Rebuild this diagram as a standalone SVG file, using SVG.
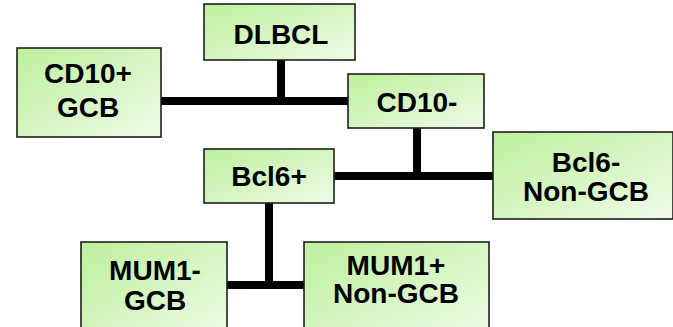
<svg xmlns="http://www.w3.org/2000/svg" width="673" height="327" viewBox="0 0 673 327">
  <defs>
    <linearGradient id="boxFill" x1="0" y1="0" x2="1" y2="1">
      <stop offset="0" stop-color="#bdf09c"/>
      <stop offset="1" stop-color="#effbe8"/>
    </linearGradient>
  </defs>
  <style>
    .box { fill: url(#boxFill); stroke: #1e1e1e; stroke-width: 1.6; }
    .lbl { font-family: "Liberation Sans", Arial, sans-serif; font-weight: bold; font-size: 28px; fill: #000; text-anchor: middle; }
    .conn { stroke: #000; stroke-width: 8; fill: none; stroke-linecap: butt; }
  </style>
  <rect width="673" height="327" fill="#ffffff"/>

  <g id="connectors">
    <line class="conn" x1="281" y1="60" x2="281" y2="101"/>
    <line class="conn" x1="161" y1="101" x2="348" y2="101"/>
    <line class="conn" x1="417" y1="128" x2="417" y2="176"/>
    <line class="conn" x1="334" y1="176" x2="493" y2="176"/>
    <line class="conn" x1="269" y1="203" x2="269" y2="285"/>
    <line class="conn" x1="227" y1="285" x2="304" y2="285"/>
  </g>

  <g id="dlbcl">
    <rect class="box" x="204" y="4" width="151" height="56"/>
    <text class="lbl" x="281" y="44">DLBCL</text>
  </g>

  <g id="cd10pos">
    <rect class="box" x="17" y="48" width="144" height="89"/>
    <text class="lbl" x="88" y="83">CD10+</text>
    <text class="lbl" x="88" y="117">GCB</text>
  </g>

  <g id="cd10neg">
    <rect class="box" x="348" y="74" width="136" height="54"/>
    <text class="lbl" x="417" y="112">CD10-</text>
  </g>

  <g id="bcl6pos">
    <rect class="box" x="204" y="149" width="130" height="54"/>
    <text class="lbl" x="269" y="186">Bcl6+</text>
  </g>

  <g id="bcl6neg">
    <rect class="box" x="493" y="132" width="180" height="87"/>
    <text class="lbl" x="586" y="172">Bcl6-</text>
    <text class="lbl" x="586" y="201">Non-GCB</text>
  </g>

  <g id="mum1neg">
    <rect class="box" x="81" y="242" width="146" height="100"/>
    <text class="lbl" x="155" y="280">MUM1-</text>
    <text class="lbl" x="155" y="310">GCB</text>
  </g>

  <g id="mum1pos">
    <rect class="box" x="304" y="242" width="185" height="100"/>
    <text class="lbl" x="396" y="275">MUM1+</text>
    <text class="lbl" x="396" y="303">Non-GCB</text>
  </g>
</svg>
